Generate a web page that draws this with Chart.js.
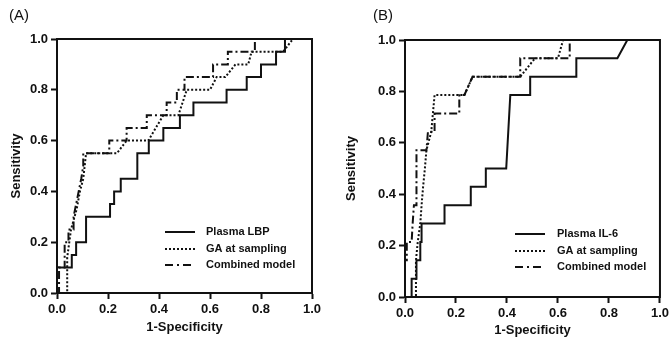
<!DOCTYPE html>
<html><head><meta charset="utf-8">
<script src="https://cdn.jsdelivr.net/npm/chart.js@4.4.1/dist/chart.umd.min.js"></script>
<style>
html,body{margin:0;padding:0;background:#fff;width:672px;height:344px;overflow:hidden;}
.wrap{position:absolute;top:0;width:336px;height:344px;}
.lbl{position:absolute;top:6px;font:15px "Liberation Sans",Arial,sans-serif;color:#111;}
</style></head><body>
<div class="wrap" style="left:0"><canvas id="cA" width="336" height="344"></canvas></div>
<div class="wrap" style="left:336px"><canvas id="cB" width="336" height="344"></canvas></div>
<div class="lbl" style="left:9px">(A)</div>
<div class="lbl" style="left:373px">(B)</div>
<script>
// ---- data ----
const tickValues = [0, 0.2, 0.4, 0.6, 0.8, 1.0];
const tickLabels = ['0.0', '0.2', '0.4', '0.6', '0.8', '1.0'];
const xTitle = '1-Specificity';
const yTitle = 'Sensitivity';
const panelLabels = ['(A)', '(B)'];
const seriesNamesA = ['Plasma LBP', 'GA at sampling', 'Combined model'];
const seriesNamesB = ['Plasma IL-6', 'GA at sampling', 'Combined model'];

// Panel A
const lbpFpr = [0,0,0.058,0.058,0.075,0.075,0.114,0.114,0.208,0.208,0.224,0.224,0.25,0.25,0.315,0.315,0.36,0.36,0.417,0.417,0.482,0.482,0.535,0.535,0.665,0.665,0.744,0.744,0.80,0.80,0.859,0.859,0.894,0.894,1];
const lbpTpr = [0,0.10,0.10,0.15,0.15,0.20,0.20,0.30,0.30,0.35,0.35,0.40,0.40,0.45,0.45,0.55,0.55,0.60,0.60,0.65,0.65,0.70,0.70,0.75,0.75,0.80,0.80,0.85,0.85,0.90,0.90,0.95,0.95,1.0,1.0];
const gaAFpr = [0,0.04,0.04,0.055,0.077,0.09,0.103,0.114,0.235,0.273,0.358,0.417,0.476,0.509,0.60,0.626,0.66,0.70,0.75,0.763,0.887,0.925,1];
const gaATpr = [0,0,0.14,0.25,0.33,0.40,0.45,0.55,0.55,0.60,0.60,0.70,0.70,0.80,0.80,0.85,0.85,0.90,0.90,0.95,0.95,1.0,1.0];
const cmAFpr = [0,0.008,0.008,0.03,0.03,0.045,0.045,0.065,0.065,0.075,0.085,0.095,0.103,0.103,0.205,0.205,0.273,0.273,0.352,0.352,0.43,0.43,0.47,0.47,0.50,0.50,0.612,0.612,0.67,0.67,0.776,0.776,1];
const cmATpr = [0,0,0.10,0.10,0.20,0.20,0.25,0.25,0.30,0.35,0.40,0.45,0.50,0.55,0.55,0.60,0.60,0.65,0.65,0.70,0.70,0.75,0.75,0.80,0.80,0.85,0.85,0.90,0.90,0.95,0.95,1.0,1.0];

// Panel B
const il6Fpr = [0,0.026,0.026,0.045,0.045,0.06,0.06,0.065,0.065,0.155,0.155,0.258,0.258,0.317,0.317,0.397,0.413,0.491,0.491,0.672,0.672,0.833,0.872,1];
const il6Tpr = [0,0,0.071,0.071,0.143,0.143,0.214,0.214,0.286,0.286,0.357,0.357,0.429,0.429,0.50,0.50,0.786,0.786,0.857,0.857,0.929,0.929,1.0,1.0];
const gaBFpr = [0,0.043,0.043,0.05,0.06,0.065,0.071,0.078,0.084,0.103,0.116,0.233,0.265,0.452,0.51,0.60,0.62,1];
const gaBTpr = [0,0,0.143,0.214,0.286,0.357,0.429,0.50,0.571,0.643,0.786,0.786,0.857,0.857,0.929,0.929,1.0,1.0];
const cmBFpr = [0,0,0.007,0.007,0.026,0.03,0.035,0.045,0.045,0.084,0.09,0.116,0.116,0.213,0.213,0.233,0.265,0.452,0.452,0.646,0.646,1];
const cmBTpr = [0,0.143,0.143,0.214,0.214,0.286,0.357,0.357,0.571,0.571,0.643,0.643,0.714,0.714,0.786,0.786,0.857,0.857,0.929,0.929,1.0,1.0];

// ---- rendering ----
Chart.defaults.font.family = "'Liberation Sans', Arial, Helvetica, sans-serif";
const INK = '#111';
const STYLES = [
  { borderDash: [] },
  { borderDash: [2, 2] },
  { borderDash: [8, 3, 2, 3] }
];

function pts(xs, ys) { return xs.map((x, i) => ({ x: x, y: ys[i] })); }

const boxPlugin = {
  id: 'box',
  afterDraw(chart) {
    const { ctx, chartArea: a } = chart;
    ctx.save();
    ctx.strokeStyle = INK; ctx.lineWidth = 2; ctx.setLineDash([]);
    ctx.beginPath();
    ctx.moveTo(a.left - 1, a.top); ctx.lineTo(a.right, a.top); ctx.lineTo(a.right, a.bottom + 1);
    ctx.stroke();
    ctx.restore();
  }
};

const legendPlugin = {
  id: 'rocLegend',
  afterDraw(chart, args, o) {
    const { ctx } = chart;
    ctx.save();
    ctx.font = 'bold 11px ' + Chart.defaults.font.family;
    ctx.textBaseline = 'middle';
    ctx.fillStyle = INK;
    chart.data.datasets.forEach((ds, i) => {
      const y = o.ys[i];
      ctx.strokeStyle = INK; ctx.lineWidth = 2;
      ctx.setLineDash(o.dashes[i]);
      ctx.beginPath(); ctx.moveTo(o.x1, y); ctx.lineTo(o.x2, y); ctx.stroke();
      ctx.setLineDash([]);
      ctx.fillText(ds.label, o.tx, y);
    });
    ctx.restore();
  }
};

function makePanel(id, names, series, L) {
  const datasets = series.map((s, i) => ({
    label: names[i],
    data: pts(s[0], s[1]),
    borderColor: INK,
    borderWidth: 2,
    borderDash: STYLES[i].borderDash,
    pointRadius: 0,
    fill: false,
    tension: 0,
    clip: 4
  }));
  const axis = (fitKey, fitVal, titlePad) => ({
    type: 'linear', min: 0, max: 1,
    afterBuildTicks(s) { s.ticks = tickValues.map(v => ({ value: v })); },
    afterFit(s) { s[fitKey] = fitVal; },
    ticks: {
      color: INK, padding: 3,
      font: { size: 13, weight: 'bold' },
      callback: (v) => tickLabels[tickValues.findIndex(t => Math.abs(t - v) < 1e-9)]
    },
    grid: { drawOnChartArea: false, drawTicks: true, tickLength: 6, tickWidth: 2, tickColor: INK },
    border: { display: true, color: INK, width: 2 },
    title: { display: true, color: INK, font: { size: 13, weight: 'bold' }, padding: titlePad }
  });
  const xs = axis('height', L.xH, { top: 0, bottom: L.xTitlePad });
  xs.title.text = xTitle;
  const ys = axis('width', L.yW, { top: L.yTitlePad, bottom: 0 });
  ys.title.text = yTitle;
  return new Chart(document.getElementById(id), {
    type: 'line',
    data: { datasets },
    options: {
      responsive: false, animation: false, events: [],
      layout: { padding: { left: 0, right: L.padR, top: L.padT, bottom: 0 } },
      scales: { x: xs, y: ys },
      plugins: {
        legend: { display: false }, tooltip: { enabled: false },
        rocLegend: { x1: L.lx1, x2: L.lx2, tx: L.tx, ys: L.ly, dashes: [[], [2, 2], [8, 4, 2, 4]] }
      }
    },
    plugins: [boxPlugin, legendPlugin]
  });
}

makePanel('cA', seriesNamesA, [[lbpFpr, lbpTpr], [gaAFpr, gaATpr], [cmAFpr, cmATpr]], {
  padR: 24, padT: 39, yW: 57, xH: 51, xTitlePad: 9, yTitlePad: 9,
  lx1: 165, lx2: 195, tx: 206, ly: [232, 249, 265]
});
makePanel('cB', seriesNamesB, [[il6Fpr, il6Tpr], [gaBFpr, gaBTpr], [cmBFpr, cmBTpr]], {
  padR: 9, padT: 40, yW: 69, xH: 47, xTitlePad: 6, yTitlePad: 8,
  lx1: 179, lx2: 209, tx: 221, ly: [234, 251, 267]
});
</script>
</body></html>
